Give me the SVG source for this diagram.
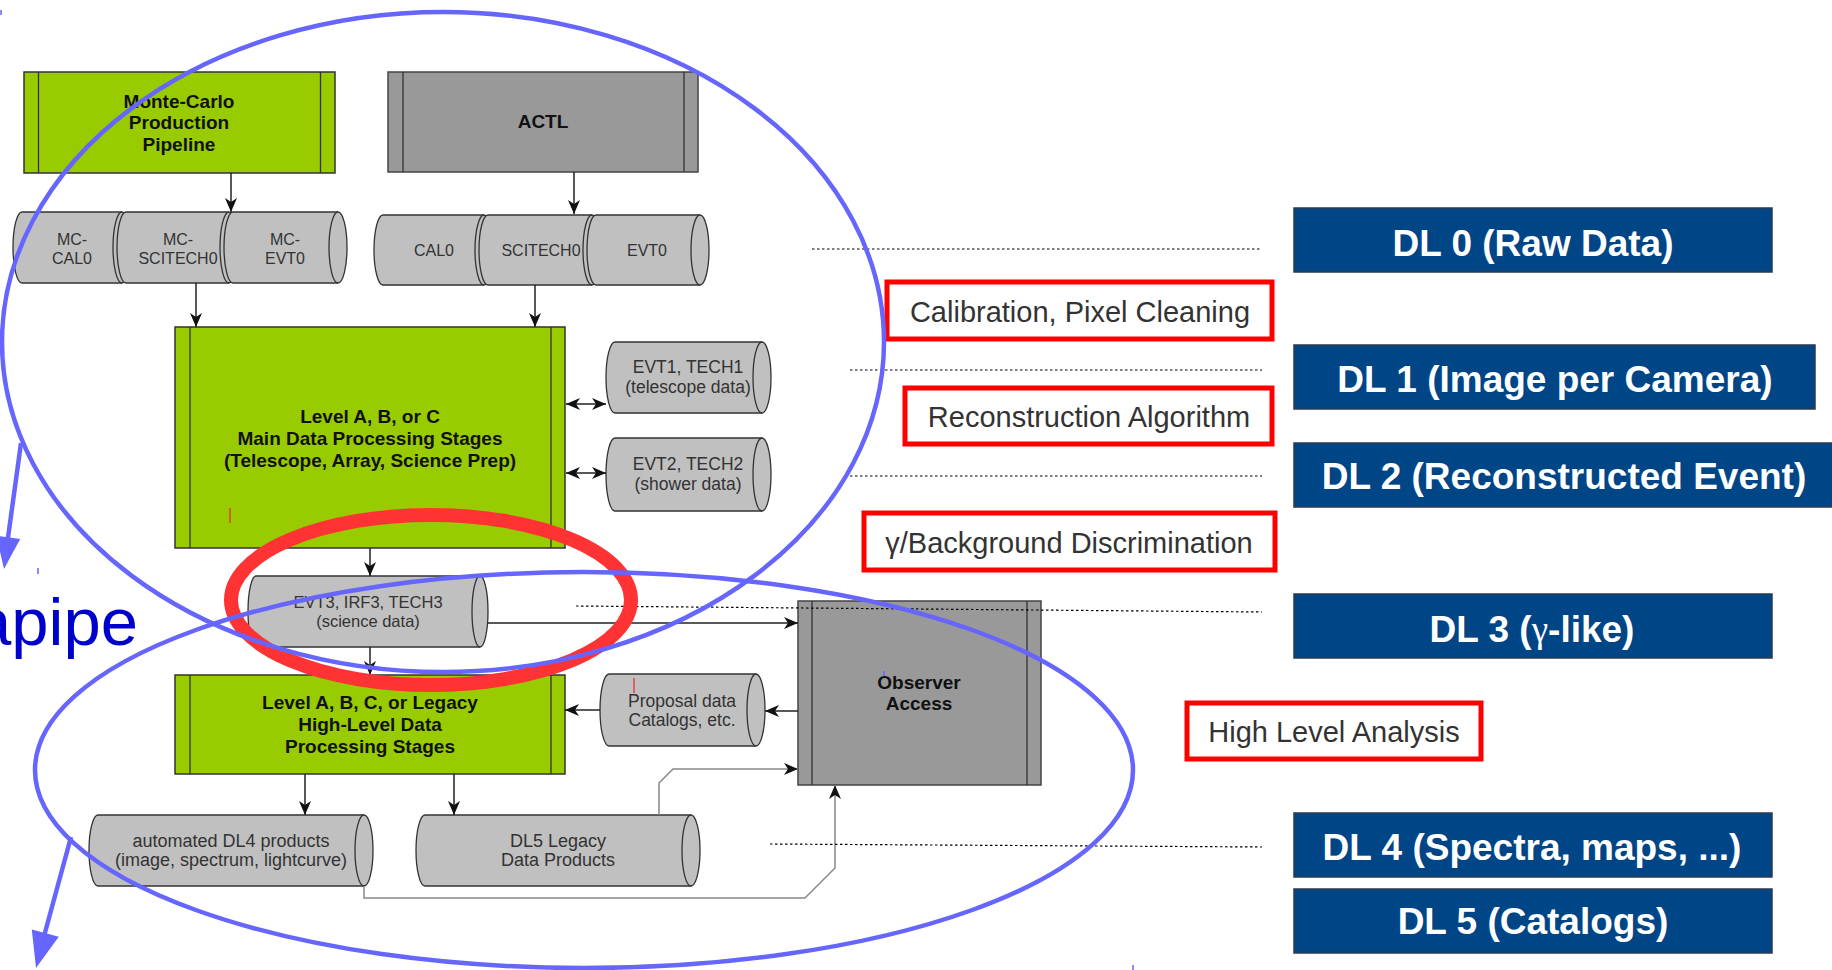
<svg xmlns="http://www.w3.org/2000/svg" width="1832" height="970" viewBox="0 0 1832 970">
<style>
.bg{fill:#99cc00;stroke:#333;stroke-width:1.5}
.bk{fill:#999999;stroke:#444;stroke-width:1.5}
.in{stroke:#333;stroke-width:1.3;fill:none}
.cyl{fill:#c0c0c0;stroke:#333;stroke-width:1.3}
.tb{font-family:"Liberation Sans",Arial,sans-serif;font-weight:bold;font-size:19px;fill:#111;text-anchor:middle}
.tc{font-family:"Liberation Sans",Arial,sans-serif;font-size:16px;fill:#333;text-anchor:middle}
.tl{font-size:17.5px}
.conn{stroke:#222;stroke-width:1.5;fill:none;marker-end:url(#ah)}
.gconn{stroke:#888;stroke-width:1.5;fill:none}
.dash{stroke:#000;stroke-width:1.2;stroke-dasharray:2.5 2.5;fill:none}
.rb{fill:#fff;stroke:#ff0000;stroke-width:5}
.lbl{font-family:"Liberation Sans",Arial,sans-serif;font-size:29px;fill:#333;text-anchor:middle}
.dl{fill:#004586;stroke:#2b3b52;stroke-width:1.5}
.dlt{font-family:"Liberation Sans",Arial,sans-serif;font-weight:bold;font-size:37px;fill:#fff;text-anchor:middle}
.blue{fill:none;stroke:#6666ff;stroke-width:4.5}
.tick{stroke-width:1.5}
</style>
<defs>
<marker id="ah" viewBox="0 0 14 12" refX="14" refY="6" markerWidth="14" markerHeight="12" markerUnits="userSpaceOnUse" orient="auto-start-reverse"><path d="M0,0 L14,6 L0,12 L4,6 Z" fill="#111"/></marker>
</defs>
<rect width="1832" height="970" fill="#fff"/>

<g id="mc-pipeline">
<rect class="bg" x="24" y="72" width="311" height="101"/>
<path class="in" d="M38.5,72V173M320.5,72V173"/>
<text class="tb" x="179" y="108">Monte-Carlo</text>
<text class="tb" x="179" y="129">Production</text>
<text class="tb" x="179" y="151">Pipeline</text>
</g>
<g id="actl">
<rect class="bk" x="388" y="72" width="310" height="100"/>
<path class="in" d="M403,72V172M684,72V172"/>
<text class="tb" x="543" y="128">ACTL</text>
</g>

<g id="mc-data">
<path class="cyl" d="M22,212H122A9,35.5 0 0 1 122,283H22A9,35.5 0 0 1 22,212Z"/>
<path class="in" d="M122,212A9,35.5 0 0 0 122,283"/>
<path class="cyl" d="M126,212H229A9,35.5 0 0 1 229,283H126A9,35.5 0 0 1 126,212Z"/>
<path class="in" d="M229,212A9,35.5 0 0 0 229,283"/>
<path class="cyl" d="M233,212H338A9,35.5 0 0 1 338,283H233A9,35.5 0 0 1 233,212Z"/>
<path class="in" d="M338,212A9,35.5 0 0 0 338,283"/>
<text class="tc" x="72" y="245">MC-</text><text class="tc" x="72" y="264">CAL0</text>
<text class="tc" x="178" y="245">MC-</text><text class="tc" x="178" y="264">SCITECH0</text>
<text class="tc" x="285" y="245">MC-</text><text class="tc" x="285" y="264">EVT0</text>
</g>
<g id="actl-data">
<path class="cyl" d="M383,215H484A9,35 0 0 1 484,285H383A9,35 0 0 1 383,215Z"/>
<path class="in" d="M484,215A9,35 0 0 0 484,285"/>
<path class="cyl" d="M488,215H592A9,35 0 0 1 592,285H488A9,35 0 0 1 488,215Z"/>
<path class="in" d="M592,215A9,35 0 0 0 592,285"/>
<path class="cyl" d="M596,215H700A9,35 0 0 1 700,285H596A9,35 0 0 1 596,215Z"/>
<path class="in" d="M700,215A9,35 0 0 0 700,285"/>
<text class="tc" x="434" y="256">CAL0</text>
<text class="tc" x="541" y="256">SCITECH0</text>
<text class="tc" x="647" y="256">EVT0</text>
</g>

<g id="main-processing">
<rect class="bg" x="175" y="327" width="390" height="221"/>
<path class="in" d="M190,327V548M551,327V548"/>
<text class="tb" x="370" y="423">Level A, B, or C</text>
<text class="tb" x="370" y="445">Main Data Processing Stages</text>
<text class="tb" x="370" y="467">(Telescope, Array, Science Prep)</text>
<path d="M230,508V523" stroke="#ff0000" stroke-width="1"/>
</g>
<g id="evt1">
<path class="cyl" d="M615,342H762A9,35.5 0 0 1 762,413H615A9,35.5 0 0 1 615,342Z"/>
<path class="in" d="M762,342A9,35.5 0 0 0 762,413"/>
<text class="tc tl" x="688" y="373">EVT1, TECH1</text>
<text class="tc tl" x="688" y="393">(telescope data)</text>
</g>
<g id="evt2">
<path class="cyl" d="M615,438H762A9,36.5 0 0 1 762,511H615A9,36.5 0 0 1 615,438Z"/>
<path class="in" d="M762,438A9,36.5 0 0 0 762,511"/>
<text class="tc tl" x="688" y="470">EVT2, TECH2</text>
<text class="tc tl" x="688" y="490">(shower data)</text>
</g>
<g id="evt3">
<path class="cyl" d="M256,576H480A8,35.5 0 0 1 480,647H256A8,35.5 0 0 1 256,576Z"/>
<path class="in" d="M480,576A8,35.5 0 0 0 480,647"/>
<text class="tc" style="font-size:16.5px" x="368" y="608">EVT3, IRF3, TECH3</text>
<text class="tc" style="font-size:16.5px" x="368" y="627">(science data)</text>
</g>
<g id="high-level">
<rect class="bg" x="175" y="675" width="390" height="99"/>
<path class="in" d="M190,675V774M551,675V774"/>
<text class="tb" x="370" y="709">Level A, B, C, or Legacy</text>
<text class="tb" x="370" y="731">High-Level Data</text>
<text class="tb" x="370" y="753">Processing Stages</text>
</g>
<g id="proposal">
<path class="cyl" d="M609,674H756A9,36 0 0 1 756,746H609A9,36 0 0 1 609,674Z"/>
<path class="in" d="M756,674A9,36 0 0 0 756,746"/>
<text class="tc tl" x="682" y="707">Proposal data</text>
<text class="tc tl" x="682" y="726">Catalogs, etc.</text>
<path d="M634,678V693" stroke="#ff0000" stroke-width="1"/>
</g>
<g id="observer">
<rect class="bk" x="798" y="601" width="243" height="184"/>
<path class="in" d="M812,601V785M1027,601V785"/>
<text class="tb" x="919" y="689">Observer</text>
<text class="tb" x="919" y="710">Access</text>
</g>
<g id="dl4-products">
<path class="cyl" d="M98,815H364A9,35.5 0 0 1 364,886H98A9,35.5 0 0 1 98,815Z"/>
<path class="in" d="M364,815A9,35.5 0 0 0 364,886"/>
<text class="tc" style="font-size:18px" x="231" y="847">automated DL4 products</text>
<text class="tc" style="font-size:18px" x="231" y="866">(image, spectrum, lightcurve)</text>
</g>
<g id="dl5-products">
<path class="cyl" d="M425,815H691A9,35.5 0 0 1 691,886H425A9,35.5 0 0 1 425,815Z"/>
<path class="in" d="M691,815A9,35.5 0 0 0 691,886"/>
<text class="tc" style="font-size:18px" x="558" y="847">DL5 Legacy</text>
<text class="tc" style="font-size:18px" x="558" y="866">Data Products</text>
</g>

<g id="connectors">
<path class="conn" d="M231,173V212"/>
<path class="conn" d="M574,172V214"/>
<path class="conn" d="M196,283V327"/>
<path class="conn" d="M535,285V327"/>
<path class="conn" d="M566,404H606" marker-start="url(#ah)"/>
<path class="conn" d="M566,473H606" marker-start="url(#ah)"/>
<path class="conn" d="M370,548V576"/>
<path class="conn" d="M488,623H798"/>
<path class="conn" d="M370,647V675"/>
<path class="conn" d="M600,710H565"/>
<path class="conn" d="M798,711H765"/>
<path class="conn" d="M305,774V815"/>
<path class="conn" d="M454,774V815"/>
<path class="gconn" d="M659,815V783L673,769H798" marker-end="url(#ah)"/>
<path class="gconn" d="M364,886V898H805L835,868V785" marker-end="url(#ah)"/>
</g>

<g id="level-lines">
<path class="dash" d="M812,249H1262"/>
<path class="dash" d="M850,370H1262"/>
<path class="dash" d="M850,476H1262"/>
<path class="dash" d="M576,606L1262,612"/>
<path class="dash" d="M770,844L1262,847"/>
</g>

<g id="step-calibration">
<rect class="rb" x="887" y="282" width="385" height="57"/>
<text class="lbl" x="1080" y="322">Calibration, Pixel Cleaning</text>
</g>
<g id="step-reconstruction">
<rect class="rb" x="905" y="388" width="367" height="56"/>
<text class="lbl" x="1089" y="427">Reconstruction Algorithm</text>
</g>
<g id="step-discrimination">
<rect class="rb" x="864" y="513" width="411" height="57"/>
<text class="lbl" x="1069" y="553">γ/Background Discrimination</text>
</g>
<g id="step-hla">
<rect class="rb" x="1187" y="703" width="294" height="56"/>
<text class="lbl" x="1334" y="742">High Level Analysis</text>
</g>

<g id="dl0"><rect class="dl" x="1294" y="208" width="478" height="64"/><text class="dlt" x="1533" y="256">DL 0 (Raw Data)</text></g>
<g id="dl1"><rect class="dl" x="1294" y="345" width="521" height="64"/><text class="dlt" x="1555" y="392">DL 1 (Image per Camera)</text></g>
<g id="dl2"><rect class="dl" x="1294" y="443" width="545" height="64"/><text class="dlt" x="1564" y="489">DL 2 (Reconstructed Event)</text></g>
<g id="dl3"><rect class="dl" x="1294" y="594" width="478" height="64"/><text class="dlt" x="1532" y="642">DL 3 (<tspan style="font-family:'Liberation Serif',serif;font-weight:normal">γ</tspan>-like)</text></g>
<g id="dl4"><rect class="dl" x="1294" y="813" width="478" height="64"/><text class="dlt" x="1532" y="860">DL 4 (Spectra, maps, ...)</text></g>
<g id="dl5"><rect class="dl" x="1294" y="889" width="478" height="64"/><text class="dlt" x="1533" y="934">DL 5 (Catalogs)</text></g>

<g id="annotations">
<text x="138" y="645" style="font-family:'Liberation Sans',Arial,sans-serif;font-size:67px;fill:#0000cc;text-anchor:end">apipe</text>
<ellipse cx="431" cy="600" rx="200" ry="85" fill="none" stroke="#ff3333" stroke-width="14"/>
<ellipse class="blue" cx="443" cy="342" rx="441" ry="330"/>
<ellipse class="blue" cx="584" cy="770" rx="549" ry="198"/>
<path class="blue" d="M21,443L7,545"/>
<path d="M4,569L-3.6,535.7L20.2,538.9Z" fill="#6666ff"/>
<path class="blue" d="M71,837L43,940"/>
<path d="M36,968L31.8,929.6L58.8,936.8Z" fill="#6666ff"/>
<path class="tick" stroke="#6666ff" d="M1,10V15M38,568V574M1133,965V970M884,671V676"/>
</g>
</svg>
